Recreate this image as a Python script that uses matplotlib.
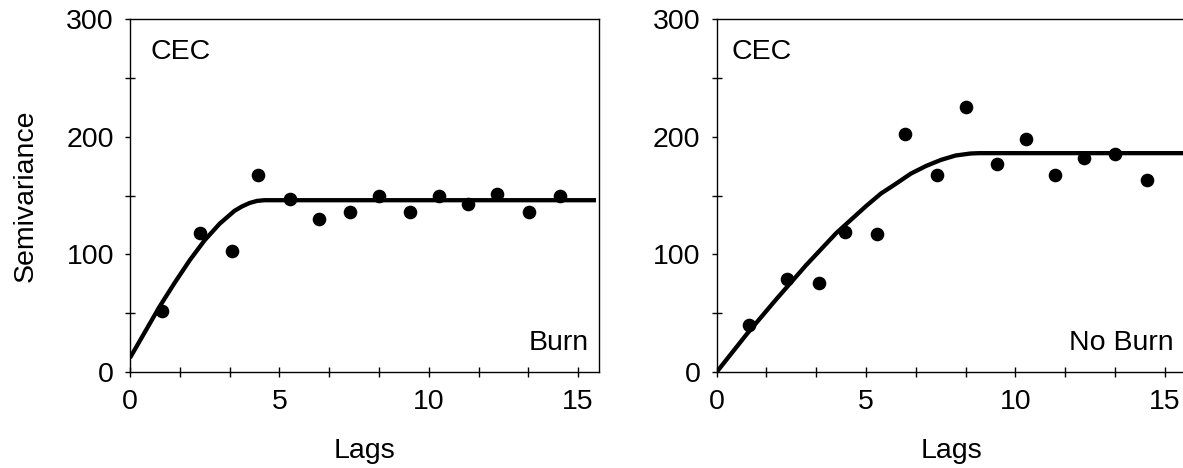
import matplotlib
matplotlib.use("Agg")
import matplotlib.pyplot as plt
from matplotlib.ticker import FixedLocator, FuncFormatter

plt.rcParams['font.family'] = ['Liberation Sans', 'DejaVu Sans']

# Lag centres shared by both experimental semivariograms
lags = [1.08, 2.35, 3.42, 4.30, 5.35, 6.32, 7.37, 8.34, 9.38, 10.35, 11.33, 12.30, 13.34, 14.39]

# Experimental semivariance, CEC
semi_burn = [52, 118, 103, 167, 147, 130, 136, 150, 136, 150, 143, 151, 136, 150]
semi_noburn = [40, 79, 76, 119, 117, 202, 167, 225, 177, 198, 167, 182, 185, 163]

# Fitted model curves
model_lag_burn = [0, 0.5, 1, 1.5, 2, 2.5, 3, 3.5, 3.75, 4, 4.25, 4.5, 15.6]
model_burn = [12, 34, 56, 76, 95, 112, 126, 137, 140.7, 143.6, 145.4, 146, 146]
model_lag_noburn = [0, 1, 2, 3, 4, 5, 5.5, 6, 6.5, 7, 7.5, 8, 8.5, 8.8, 15.7]
model_noburn = [0, 32, 62, 91, 118, 141, 151.7, 160, 168.6, 175, 180.2, 184, 185.7, 186, 186]

x_ticks = [i * 5 / 3 for i in range(10)]
FS = 20.5

fig = plt.figure(figsize=(11.83, 4.68), dpi=100)
W, H = 1183, 468
ax1 = fig.add_axes([130 / W, 96 / H, 469 / W, 353 / H])
ax2 = fig.add_axes([716.7 / W, 96 / H, 469 / W, 353 / H])

panels = [
    (ax1, semi_burn, model_lag_burn, model_burn, 'Burn', 15.37, 0.69),
    (ax2, semi_noburn, model_lag_noburn, model_noburn, 'No Burn', 15.30, 0.51),
]

for ax, semi, mx, my, name, name_x, cec_x in panels:
    ax.plot(mx, my, color='black', lw=3.1, solid_capstyle='butt', solid_joinstyle='round')
    ax.plot(lags, semi, 'o', color='black', markersize=8.8)

    ax.set_xlim(0, 15.7)
    ax.set_ylim(0, 300)

    # x ticks every 5/3 lag, labelled only at 0, 5, 10, 15
    ax.xaxis.set_major_locator(FixedLocator(x_ticks))
    ax.xaxis.set_major_formatter(FuncFormatter(
        lambda v, pos: f'{round(v):d}' if abs(v - round(v)) < 1e-6 and round(v) % 5 == 0 else ''))
    ax.tick_params(axis='x', direction='inout', length=7, width=1, pad=9, labelsize=FS)

    ax.set_yticks([0, 100, 200, 300])
    ax.set_yticks([50, 150, 250], minor=True)
    ax.tick_params(axis='y', which='major', direction='out', length=3.6, width=1, pad=8, labelsize=FS)
    ax.tick_params(axis='y', which='minor', direction='inout', length=7, width=1)

    for sp in ax.spines.values():
        sp.set_linewidth(1)
        sp.set_color('black')

    ax.text(cec_x, 266, 'CEC', ha='left', va='baseline', fontsize=FS)
    ax.text(name_x, 19, name, ha='right', va='baseline', fontsize=FS)
    ax.set_xlabel('Lags', fontsize=FS, labelpad=16)

ax1.set_ylabel('Semivariance', fontsize=FS, labelpad=20)

fig.savefig('out.png', dpi=100)
